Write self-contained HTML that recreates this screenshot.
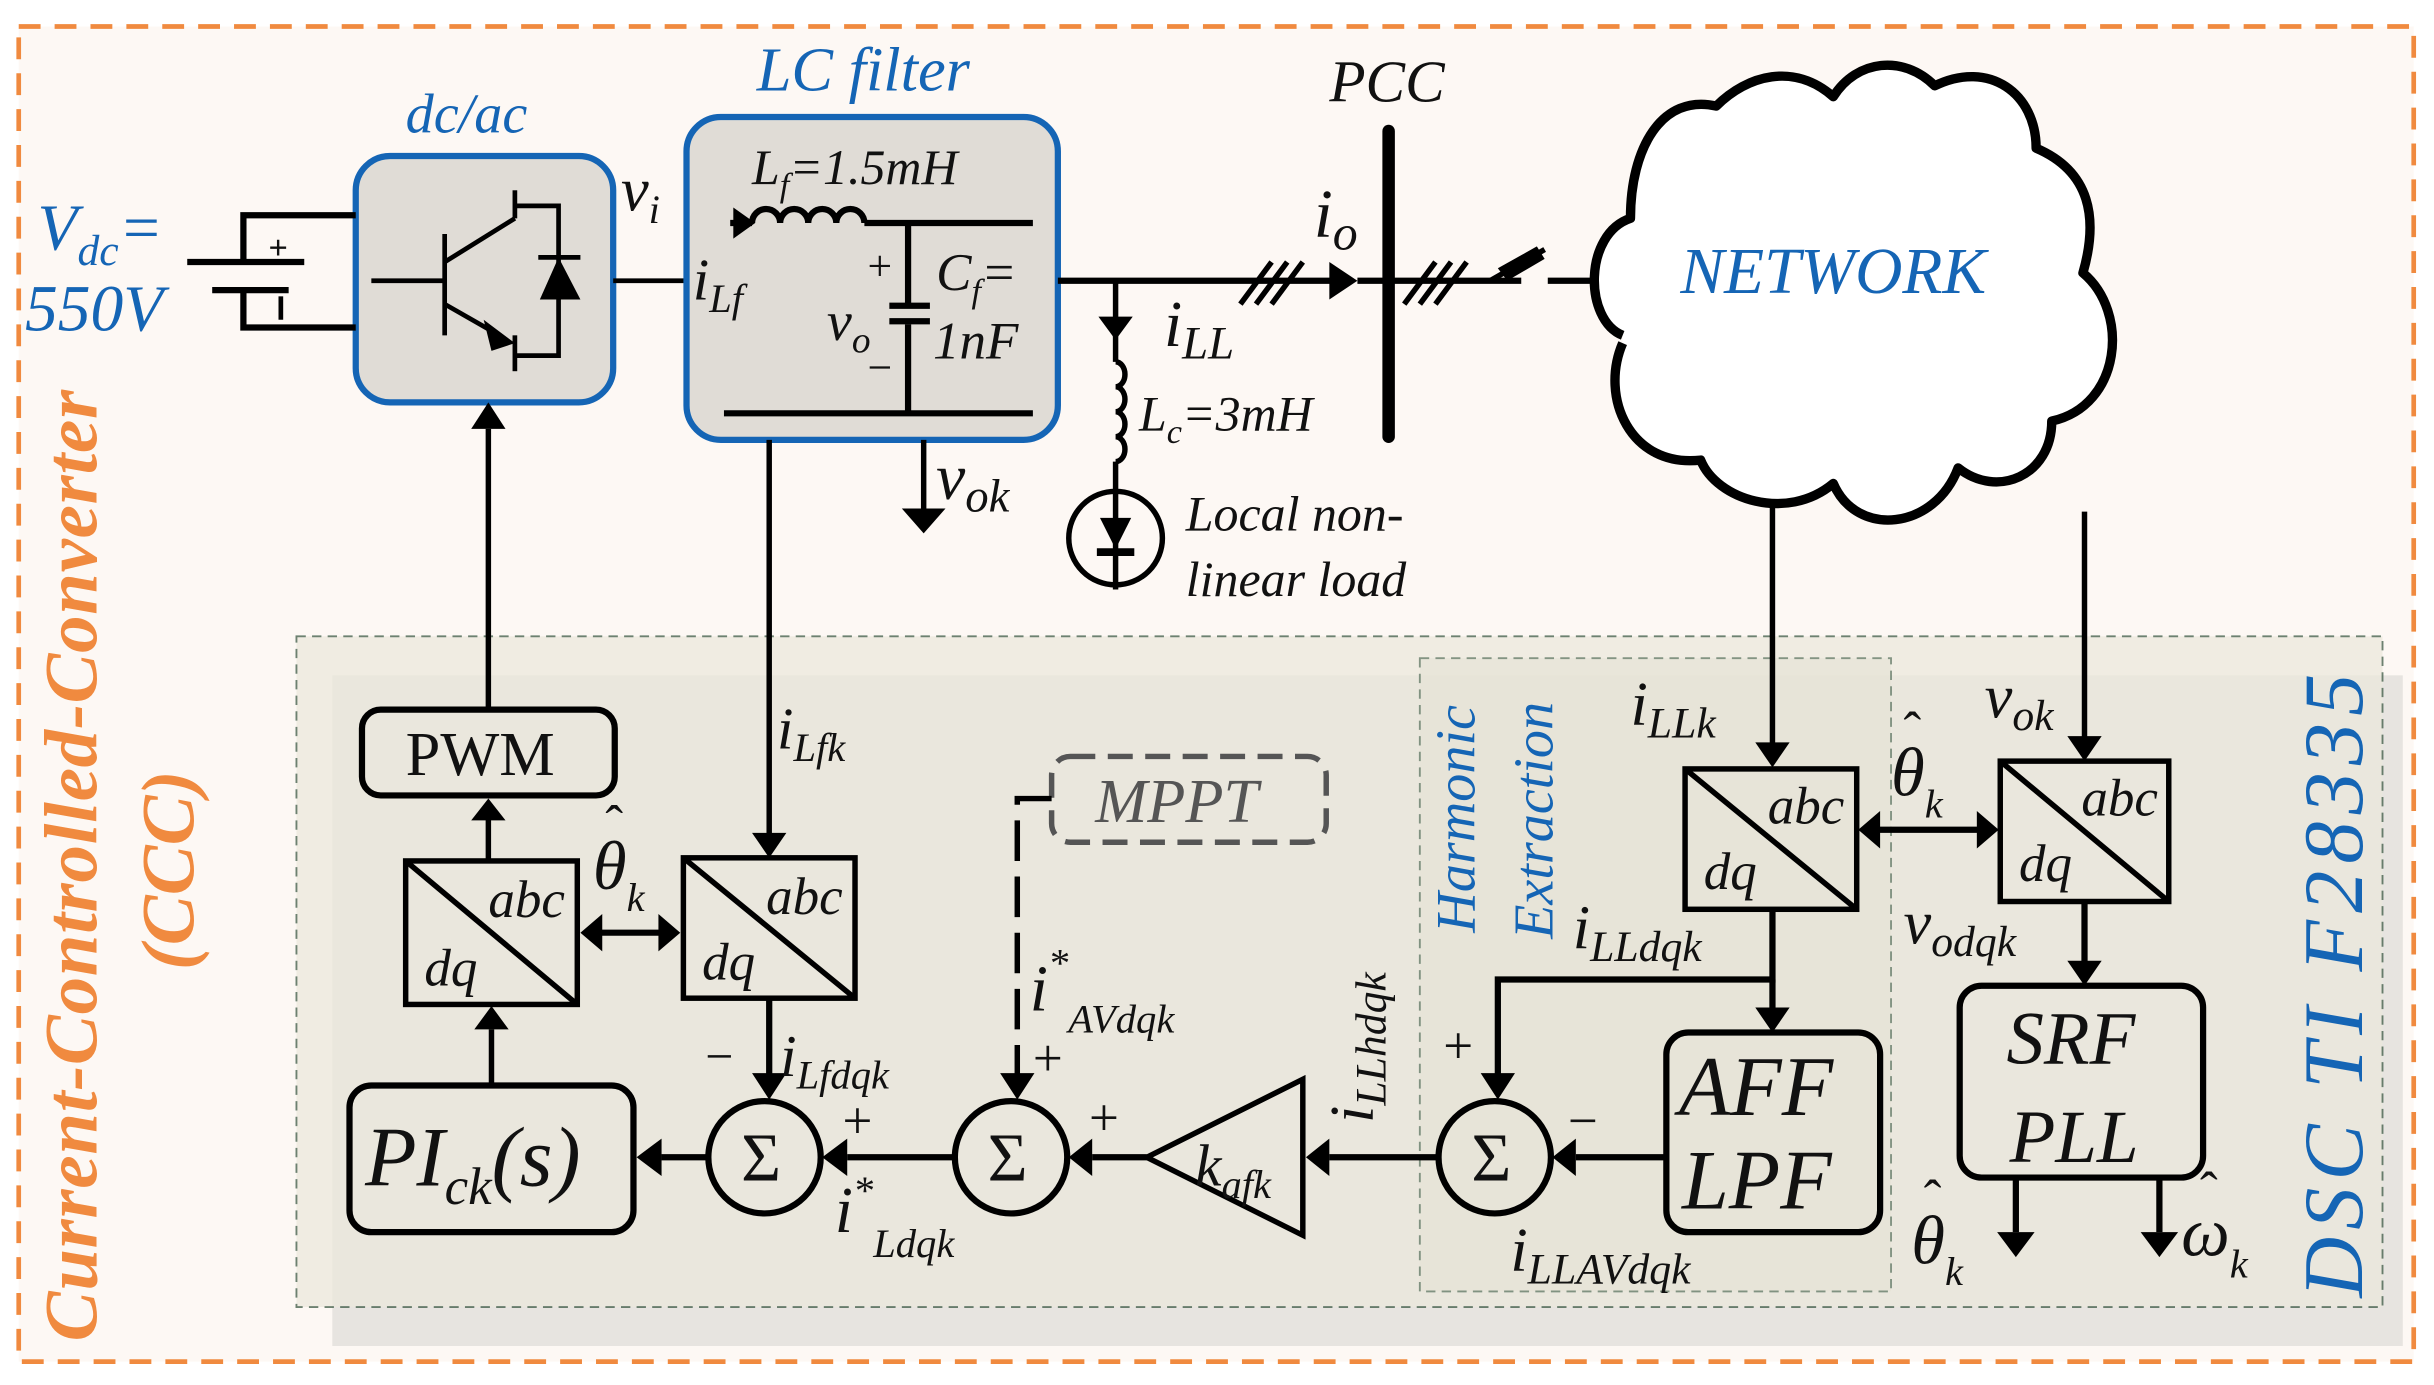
<!DOCTYPE html>
<html><head><meta charset="utf-8"><style>
html,body{margin:0;padding:0;background:#fff;}
svg{display:block;}
text{font-family:"Liberation Serif","Times New Roman",serif;font-style:italic;fill:#111;}
.b{fill:#1565b5;}
.n{font-style:normal;}
</style></head><body>
<svg width="2434" height="1385" viewBox="0 0 1560 888" preserveAspectRatio="none" xmlns="http://www.w3.org/2000/svg" font-family="Liberation Serif, serif">
<rect x="0" y="0" width="1560" height="888" fill="#fff"/>
<rect x="12" y="17" width="1535" height="856" fill="#fdf8f4" stroke="#f08a3f" stroke-width="3" stroke-dasharray="14,9"/>
<!-- DSC area -->
<rect x="213" y="433" width="1327" height="430" fill="#e7e4e0"/>
<rect x="190" y="408" width="1337" height="430" fill="#ece9dc" opacity="0.75" stroke="#3d5a45" stroke-width="1.2" stroke-dasharray="6,4"/>
<rect x="910" y="422" width="302" height="406" fill="#e6e3d6" opacity="0.6" stroke="#3d5a45" stroke-width="1.2" stroke-dasharray="6,4"/>

<!-- vertical labels -->
<text transform="translate(62,860) rotate(-90)" font-size="48" font-weight="bold" style="fill:#f08a3f" textLength="610">Current-Controlled-Converter</text>
<text transform="translate(124,622) rotate(-90)" font-size="48" font-weight="bold" style="fill:#f08a3f">(CCC)</text>
<text transform="translate(1514,832) rotate(-90)" font-size="54" class="b" textLength="400">DSC TI F28335</text>
<text transform="translate(945,598) rotate(-90)" font-size="36" class="b">Harmonic</text>
<text transform="translate(995,602) rotate(-90)" font-size="36" class="b">Extraction</text>

<!-- dc/ac -->
<text x="260" y="85" font-size="36" class="b">dc/ac</text>
<rect x="228" y="100" width="165" height="158" rx="22" fill="#e0dcd6" stroke="#1565b5" stroke-width="4"/>
<g stroke="#000" stroke-width="3" fill="none">
<line x1="238" y1="180" x2="285" y2="180"/>
<line x1="285" y1="150" x2="285" y2="215"/>
<line x1="285" y1="168" x2="330" y2="140"/>
<line x1="285" y1="195" x2="320" y2="215"/>
<line x1="330" y1="122" x2="330" y2="140"/>
<line x1="330" y1="215" x2="330" y2="238"/>
<polyline points="330,132 358,132 358,228 330,228"/>
<line x1="345" y1="165" x2="372" y2="165"/>
</g>
<path d="M346,192 L358,165 L372,192 z" fill="#000"/>
<path d="M310,205 L330,220 L315,225 z" fill="#000"/>
<!-- battery -->
<g stroke="#000" stroke-width="4" fill="none">
<polyline points="228,138 156,138 156,168"/>
<polyline points="228,210 156,210 156,186"/>
<line x1="120" y1="168" x2="195" y2="168"/>
<line x1="136" y1="186" x2="185" y2="186"/>
</g>
<text x="172" y="166" font-size="22" class="n" font-weight="bold">+</text>
<line x1="180" y1="190" x2="180" y2="205" stroke="#000" stroke-width="3"/>
<text x="24" y="160" font-size="42" class="b">V<tspan font-size="28" dy="10">dc</tspan><tspan dy="-10">=</tspan></text>
<text x="16" y="212" font-size="42" class="b">550V</text>
<text x="398" y="135" font-size="40">v<tspan font-size="26" dy="8">i</tspan></text>
<line x1="393" y1="180" x2="440" y2="180" stroke="#000" stroke-width="3"/>

<!-- LC filter -->
<text x="485" y="58" font-size="40" class="b">LC filter</text>
<rect x="440" y="75" width="238" height="207" rx="22" fill="#e0dcd6" stroke="#1565b5" stroke-width="4"/>
<g stroke="#000" stroke-width="4" fill="none">
<line x1="468" y1="143" x2="482" y2="143"/>
<path d="M482,143 a9,9 0 0 1 18,0 a9,9 0 0 1 18,0 a9,9 0 0 1 18,0 a9,9 0 0 1 18,0"/>
<line x1="554" y1="143" x2="662" y2="143"/>
<line x1="582" y1="143" x2="582" y2="196"/>
<line x1="582" y1="208" x2="582" y2="265"/>
<line x1="570" y1="196" x2="596" y2="196"/>
<line x1="570" y1="206" x2="596" y2="206"/>
<line x1="464" y1="265" x2="662" y2="265"/>
</g>
<path d="M470,133 L484,143 L470,153 z" fill="#000"/>
<text x="482" y="118" font-size="32">L<tspan font-size="22" dy="8">f</tspan><tspan dy="-8">=1.5mH</tspan></text>
<text x="600" y="186" font-size="34">C<tspan font-size="22" dy="8">f</tspan><tspan dy="-8">=</tspan></text>
<text x="598" y="230" font-size="34">1nF</text>
<text x="530" y="218" font-size="36">v<tspan font-size="24" dy="8">o</tspan></text>
<text x="556" y="180" font-size="28" class="n">+</text>
<text x="556" y="245" font-size="28" class="n">−</text>
<text x="444" y="192" font-size="38">i<tspan font-size="26" dy="8">Lf</tspan></text>

<!-- output line -->
<line x1="678" y1="180" x2="858" y2="180" stroke="#000" stroke-width="4"/>
<path d="M852,168 L870,180 L852,192 z" fill="#000"/>
<line x1="870" y1="180" x2="975" y2="180" stroke="#000" stroke-width="4"/>
<line x1="890" y1="84" x2="890" y2="280" stroke="#000" stroke-width="8" stroke-linecap="round"/>
<g stroke="#000" stroke-width="3.5">
<line x1="795" y1="195" x2="815" y2="168"/><line x1="805" y1="195" x2="825" y2="168"/><line x1="815" y1="195" x2="835" y2="168"/>
<line x1="900" y1="195" x2="920" y2="168"/><line x1="910" y1="195" x2="930" y2="168"/><line x1="920" y1="195" x2="940" y2="168"/>
<line x1="955" y1="180" x2="990" y2="160"/>
</g>
<path d="M960,172 L985,158 L990,166 L966,180 z" fill="#000"/>
<line x1="992" y1="180" x2="1025" y2="180" stroke="#000" stroke-width="4"/>
<line x1="1025" y1="180" x2="1055" y2="180" stroke="#999" stroke-width="4"/>
<text x="852" y="65" font-size="38">PCC</text>
<text x="842" y="152" font-size="44">i<tspan font-size="32" dy="8">o</tspan></text>

<!-- load branch -->
<g stroke="#000" stroke-width="3.5" fill="none">
<line x1="715" y1="180" x2="715" y2="232"/>
<path d="M715,232 a6,8 0 0 1 0,16 a6,8 0 0 1 0,16 a6,8 0 0 1 0,16 a6,8 0 0 1 0,16"/>
<line x1="715" y1="296" x2="715" y2="378"/>
<circle cx="715" cy="345" r="30"/>
<line x1="703" y1="354" x2="727" y2="354" stroke-width="5"/>
</g>
<path d="M704,203 L715,218 L726,203 z" fill="#000"/>
<path d="M705,332 L715,352 L725,332 z" fill="#000"/>
<text x="746" y="222" font-size="42">i<tspan font-size="30" dy="8">LL</tspan></text>
<text x="730" y="276" font-size="32">L<tspan font-size="22" dy="8">c</tspan><tspan dy="-8">=3mH</tspan></text>
<text x="760" y="340" font-size="32">Local non-</text>
<text x="760" y="382" font-size="32">linear load</text>
<line x1="592" y1="282" x2="592" y2="328" stroke="#000" stroke-width="3.5"/>
<path d="M578,326 L592,342 L606,326 z" fill="#000"/>
<text x="600" y="320" font-size="42">v<tspan font-size="30" dy="8">ok</tspan></text>

<!-- cloud -->
<path d="M1040,215 C1015,205 1015,150 1045,140 C1045,95 1065,60 1100,68 C1120,48 1150,40 1175,62 C1190,38 1220,35 1240,55 C1275,38 1305,60 1305,95 C1340,110 1345,140 1335,175 C1365,200 1360,260 1315,270 C1315,305 1280,320 1255,300 C1240,340 1190,345 1175,310 C1145,335 1100,320 1090,295 C1045,300 1025,255 1040,220" fill="#fff" stroke="#000" stroke-width="6" stroke-linejoin="round"/>
<text x="1077" y="188" font-size="42" class="b">NETWORK</text>

<!-- vertical connectors -->
<g stroke="#000" stroke-width="3.5" fill="none">
<line x1="313" y1="455" x2="313" y2="275"/>
<line x1="493" y1="282" x2="493" y2="535"/>
<line x1="1136" y1="320" x2="1136" y2="478"/>
<line x1="1336" y1="328" x2="1336" y2="474"/>
</g>
<path d="M302,275 L313,258 L324,275 z" fill="#000"/>
<path d="M482,534 L493,550 L504,534 z" fill="#000"/>
<path d="M1125,476 L1136,492 L1147,476 z" fill="#000"/>
<path d="M1325,472 L1336,488 L1347,472 z" fill="#000"/>

<!-- PWM -->
<rect x="232" y="455" width="162" height="55" rx="12" fill="none" stroke="#000" stroke-width="4"/>
<text x="260" y="497" font-size="40" class="n">PWM</text>
<line x1="313" y1="552" x2="313" y2="525" stroke="#000" stroke-width="3.5"/>
<path d="M302,526 L313,512 L324,526 z" fill="#000"/>

<!-- abc/dq boxes -->
<g stroke="#000" stroke-width="3.5" fill="none">
<rect x="260" y="552" width="110" height="92"/><line x1="260" y1="552" x2="370" y2="644"/>
<rect x="438" y="550" width="110" height="90"/><line x1="438" y1="550" x2="548" y2="640"/>
<rect x="1080" y="493" width="110" height="90"/><line x1="1080" y1="493" x2="1190" y2="583"/>
<rect x="1282" y="488" width="108" height="90"/><line x1="1282" y1="488" x2="1390" y2="578"/>
</g>
<g font-size="34">
<text x="313" y="588">abc</text><text x="272" y="632">dq</text>
<text x="491" y="586">abc</text><text x="450" y="628">dq</text>
<text x="1133" y="528">abc</text><text x="1092" y="570">dq</text>
<text x="1334" y="523">abc</text><text x="1294" y="565">dq</text>
</g>
<!-- double arrows -->
<line x1="384" y1="598" x2="424" y2="598" stroke="#000" stroke-width="4"/>
<path d="M386,586 L372,598 L386,610 z M422,586 L436,598 L422,610 z" fill="#000"/>
<line x1="1204" y1="532" x2="1268" y2="532" stroke="#000" stroke-width="4"/>
<path d="M1205,520 L1191,532 L1205,544 z M1267,520 L1281,532 L1267,544 z" fill="#000"/>
<!-- thetas with hats -->
<text x="380" y="570" font-size="44">θ<tspan font-size="26" dy="14">k</tspan></text>
<text x="388" y="540" font-size="34" class="n">ˆ</text>
<text x="1212" y="510" font-size="44">θ<tspan font-size="26" dy="14">k</tspan></text>
<text x="1220" y="480" font-size="34" class="n">ˆ</text>
<text x="1225" y="810" font-size="44">θ<tspan font-size="26" dy="14">k</tspan></text>
<text x="1233" y="780" font-size="34" class="n">ˆ</text>
<text x="1398" y="805" font-size="44">ω<tspan font-size="26" dy="14">k</tspan></text>
<text x="1410" y="775" font-size="34" class="n">ˆ</text>

<text x="498" y="480" font-size="38">i<tspan font-size="26" dy="8">Lfk</tspan></text>
<text x="1045" y="465" font-size="40">i<tspan font-size="28" dy="8">LLk</tspan></text>
<text x="1272" y="460" font-size="40">v<tspan font-size="28" dy="8">ok</tspan></text>

<!-- PI -->
<rect x="224" y="696" width="182" height="94" rx="14" fill="none" stroke="#000" stroke-width="4"/>
<text x="234" y="760" font-size="54">PI<tspan font-size="34" dy="12">ck</tspan><tspan dy="-12">(s)</tspan></text>
<line x1="315" y1="696" x2="315" y2="660" stroke="#000" stroke-width="3.5"/>
<path d="M304,660 L315,645 L326,660 z" fill="#000"/>

<!-- sums -->
<g stroke="#000" stroke-width="4" fill="none">
<circle cx="490" cy="742" r="36"/>
<circle cx="648" cy="742" r="36"/>
<circle cx="958" cy="742" r="36"/>
<path d="M735,742 L835,692 L835,792 z" stroke-width="3.5"/>
<rect x="1068" y="662" width="137" height="128" rx="14"/>
<rect x="1256" y="632" width="156" height="123" rx="14"/>
</g>
<g font-size="44" class="n">
<text x="475" y="757" class="n">Σ</text>
<text x="633" y="757" class="n">Σ</text>
<text x="943" y="757" class="n">Σ</text>
</g>
<text x="766" y="760" font-size="38">k<tspan font-size="26" dy="8">afk</tspan></text>
<text x="1076" y="715" font-size="54">AFF</text>
<text x="1078" y="775" font-size="54">LPF</text>
<text x="1286" y="682" font-size="48">SRF</text>
<text x="1288" y="745" font-size="48">PLL</text>

<!-- horizontal connectors -->
<g stroke="#000" stroke-width="4" fill="none">
<line x1="454" y1="742" x2="424" y2="742"/>
<line x1="612" y1="742" x2="543" y2="742"/>
<line x1="735" y1="742" x2="700" y2="742"/>
<line x1="922" y1="742" x2="852" y2="742"/>
<line x1="1068" y1="742" x2="1010" y2="742"/>
<line x1="493" y1="640" x2="493" y2="690"/>
<polyline points="1136,583 1136,628 960,628 960,690"/>
<line x1="1136" y1="628" x2="1136" y2="648"/>
<line x1="1336" y1="578" x2="1336" y2="618"/>
<line x1="1292" y1="755" x2="1292" y2="790"/>
<line x1="1384" y1="755" x2="1384" y2="790"/>
</g>
<g fill="#000">
<path d="M424,730 L408,742 L424,754 z"/>
<path d="M543,730 L527,742 L543,754 z"/>
<path d="M700,730 L685,742 L700,754 z"/>
<path d="M852,730 L837,742 L852,754 z"/>
<path d="M1010,730 L995,742 L1010,754 z"/>
<path d="M482,688 L493,705 L504,688 z"/>
<path d="M949,688 L960,705 L971,688 z"/>
<path d="M1125,646 L1136,662 L1147,646 z"/>
<path d="M1325,616 L1336,632 L1347,616 z"/>
<path d="M1280,790 L1292,806 L1304,790 z"/>
<path d="M1372,790 L1384,806 L1396,790 z"/>
<path d="M641,688 L652,705 L663,688 z"/>
</g>
<!-- MPPT -->
<rect x="674" y="485" width="176" height="55" rx="12" fill="none" stroke="#555" stroke-width="3.5" stroke-dasharray="16,8"/>
<text x="702" y="527" font-size="40" style="fill:#555">MPPT</text>
<polyline points="674,512 652,512 652,690" fill="none" stroke="#000" stroke-width="3.5" stroke-dasharray="26,10"/>

<!-- signal labels -->
<text x="500" y="690" font-size="38">i<tspan font-size="26" dy="8">Lfdqk</tspan></text>
<text x="452" y="688" font-size="32" class="n">−</text>
<text x="540" y="730" font-size="34" class="n">+</text>
<text x="698" y="728" font-size="34" class="n">+</text>
<text x="662" y="690" font-size="34" class="n">+</text>
<text x="660" y="648" font-size="42">i<tspan font-size="26" dy="-22">*</tspan><tspan font-size="26" dy="36">AVdqk</tspan></text>
<text x="535" y="790" font-size="42">i<tspan font-size="26" dy="-18">*</tspan><tspan font-size="26" dy="34">Ldqk</tspan></text>
<text transform="translate(880,720) rotate(-90)" font-size="40">i<tspan font-size="28" dy="8">LLhdqk</tspan></text>
<text x="1008" y="608" font-size="40">i<tspan font-size="28" dy="8">LLdqk</tspan></text>
<text x="1220" y="605" font-size="40">v<tspan font-size="28" dy="8">odqk</tspan></text>
<text x="925" y="682" font-size="34" class="n">+</text>
<text x="1005" y="730" font-size="34" class="n">−</text>
<text x="968" y="815" font-size="40">i<tspan font-size="28" dy="8">LLAVdqk</tspan></text>
</svg>
</body></html>
